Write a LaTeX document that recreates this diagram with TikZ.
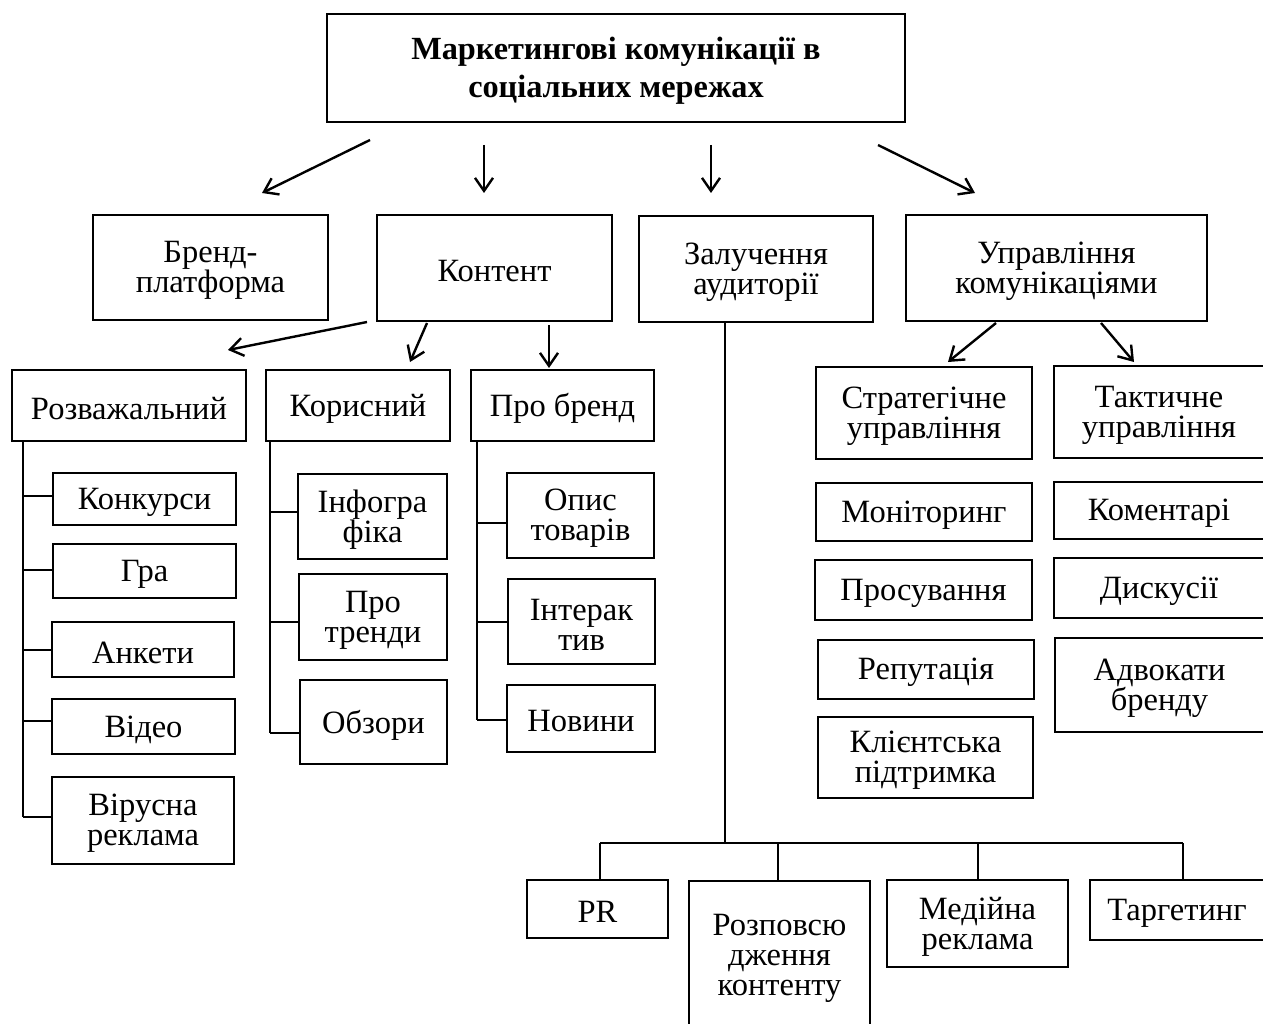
\documentclass[tikz,border=0pt]{standalone}
\usepackage{fontspec}
\setmainfont{Liberation Serif}
\usetikzlibrary{arrows.meta}
\begin{document}
\begin{tikzpicture}[x=1pt,y=-1pt,
  box/.style={draw,line width=1.2pt,inner sep=0pt},
  txt/.style={inner sep=0pt,align=center,font=\fontsize{32.5}{30}\selectfont},
  titletxt/.style={txt,font=\fontsize{32.3}{38}\selectfont\bfseries},
  arr/.style={line width=2.4pt,-{Straight Barb[length=13pt,width=18pt,line width=2.4pt]}},
  tree/.style={line width=2pt}]
\useasboundingbox[fill=white] (0,0) rectangle (1263,1024);
% nodes: (cx,cy), width, height
\newcommand{\bx}[6][txt]{\node[box,minimum width=#4pt,minimum height=#5pt] (#2) at (#3) {};
  \node[#1] at ([yshift=-3pt]#2.center) {#6};}
\bx[titletxt]{title}{616,68}{578}{108}{Маркетингові комунікації в\\соціальних мережах}
\bx{brand}{210.5,267.5}{235}{105}{Бренд-\\платформа}
\bx{kontent}{494.5,268}{235}{106}{Контент}
\bx{zaluch}{756,269}{234}{106}{Залучення\\аудиторії}
\bx{uprav}{1056.5,268}{301}{106}{Управління\\комунікаціями}
\bx{rozv}{129,405.5}{234}{71}{Розважальний}
\bx{koris}{358,405.5}{184}{71}{Корисний}
\bx{probrend}{562.5,405.5}{183}{71}{Про бренд}
\bx{strat}{924,413}{216}{92}{Стратегічне\\управління}
\bx{takt}{1159,412}{210}{92}{Тактичне\\управління}
\bx{konk}{144.5,499}{183}{52}{Конкурси}
\bx{gra}{144.5,571}{183}{54}{Гра}
\bx{anket}{143,649.5}{182}{55}{Анкети}
\bx{video}{143.5,726.5}{183}{55}{Відео}
\bx{virus}{143,820.5}{182}{87}{Вірусна\\реклама}
\bx{info}{372.5,516.5}{149}{85}{Інфогра\\фіка}
\bx{trendy}{373,617}{148}{86}{Про\\тренди}
\bx{obzory}{373.5,722}{147}{84}{Обзори}
\bx{opys}{580.5,515.5}{147}{85}{Опис\\товарів}
\bx{inter}{581.5,621.5}{147}{85}{Інтерак\\тив}
\bx{novyny}{581,718.5}{148}{67}{Новини}
\bx{monit}{924,512}{216}{58}{Моніторинг}
\bx{prosuv}{923.5,590}{217}{60}{Просування}
\bx{reput}{926,669.5}{216}{59}{Репутація}
\bx{klient}{925.5,757.5}{215}{81}{Клієнтська\\підтримка}
\bx{koment}{1159,510.5}{210}{57}{Коментарі}
\bx{dysk}{1159,588}{210}{60}{Дискусії}
\bx{advok}{1159.5,685}{209}{94}{Адвокати\\бренду}
\bx{pr}{597.5,909}{141}{58}{PR}
\bx{rozpov}{779.5,955.5}{181}{149}{Розповсю\\дження\\контенту}
\bx{media}{977.5,923.5}{181}{87}{Медійна\\реклама}
\bx{target}{1177,910}{174}{60}{Таргетинг}
% arrows from title
\coordinate (a1s) at (370,140); \coordinate (a1e) at (262,193);
\coordinate (a2s) at (484,145); \coordinate (a2e) at (484,193);
\coordinate (a3s) at (711,145); \coordinate (a3e) at (711,193);
\coordinate (a4s) at (878,145); \coordinate (a4e) at (975,193);
\draw[arr] (a1s) -- (a1e);
\draw[arr] (a2s) -- (a2e);
\draw[arr] (a3s) -- (a3e);
\draw[arr] (a4s) -- (a4e);
% arrows from Контент
\coordinate (b1s) at (367,322); \coordinate (b1e) at (228,350);
\coordinate (b2s) at (427,323); \coordinate (b2e) at (410,362);
\coordinate (b3s) at (549,325); \coordinate (b3e) at (549,368);
\draw[arr] (b1s) -- (b1e);
\draw[arr] (b2s) -- (b2e);
\draw[arr] (b3s) -- (b3e);
% arrows from Управління
\coordinate (c1s) at (996,323); \coordinate (c1e) at (948,362);
\coordinate (c2s) at (1101,323); \coordinate (c2e) at (1134,362);
\draw[arr] (c1s) -- (c1e);
\draw[arr] (c2s) -- (c2e);
% tree: Розважальний
\coordinate (r0) at (23,441);
\draw[tree] (r0) -- (23,817);
\draw[tree] (23,496) -- (konk.west |- 0,496);
\draw[tree] (23,570) -- (gra.west |- 0,570);
\draw[tree] (23,650) -- (anket.west |- 0,650);
\draw[tree] (23,721) -- (video.west |- 0,721);
\draw[tree] (23,817) -- (virus.west |- 0,817);
% tree: Корисний
\draw[tree] (270,441) -- (270,733);
\draw[tree] (270,512) -- (info.west |- 0,512);
\draw[tree] (270,622) -- (trendy.west |- 0,622);
\draw[tree] (270,733) -- (obzory.west |- 0,733);
% tree: Про бренд
\draw[tree] (477,441) -- (477,720);
\draw[tree] (477,523) -- (opys.west |- 0,523);
\draw[tree] (477,622) -- (inter.west |- 0,622);
\draw[tree] (477,720) -- (novyny.west |- 0,720);
% tree: Залучення
\coordinate (z0) at (725,843);
\draw[tree] (725,322) -- (z0);
\draw[tree] (600,843) -- (1183,843);
\draw[tree] (600,843) -- (600,880);
\draw[tree] (778,843) -- (778,881);
\draw[tree] (978,843) -- (978,880);
\draw[tree] (1183,843) -- (1183,880);
\end{tikzpicture}
\end{document}
